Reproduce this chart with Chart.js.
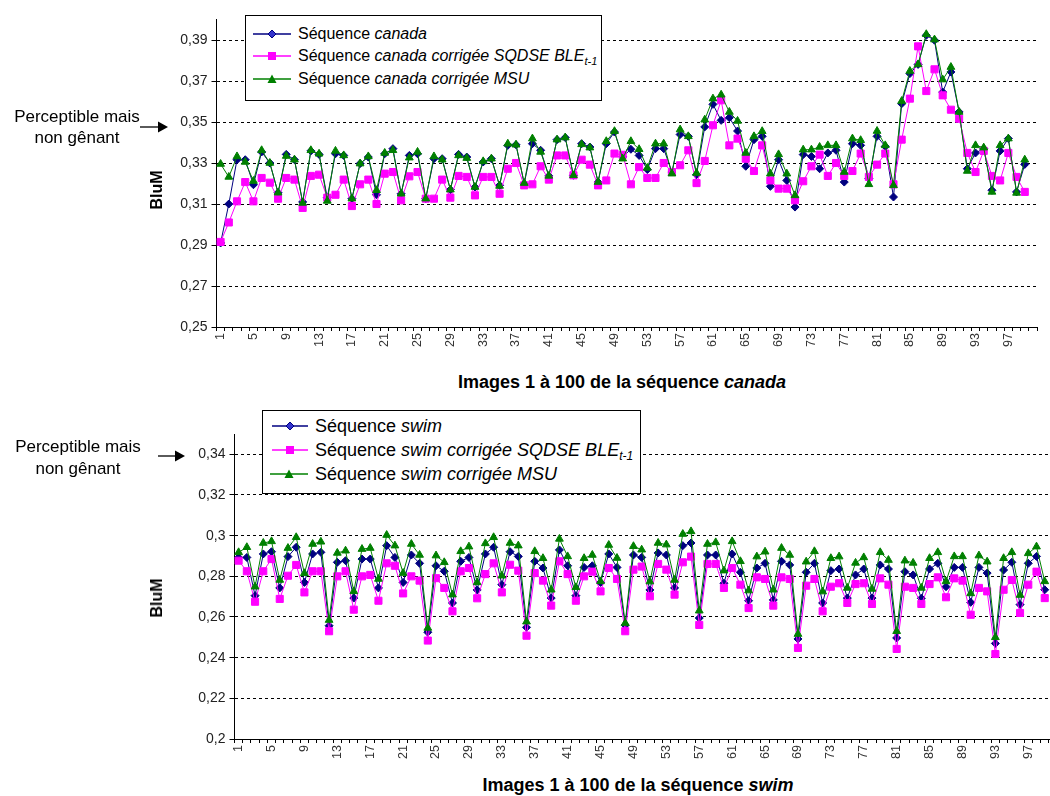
<!DOCTYPE html>
<html><head><meta charset="utf-8">
<script src="https://cdn.jsdelivr.net/npm/chart.js@4.4.1/dist/chart.umd.min.js"></script>
<style>
html,body{margin:0;padding:0;width:1050px;height:796px;overflow:hidden;background:#fff;}
body{position:relative;font-family:"Liberation Sans",Arial,sans-serif;color:#000;}
canvas{position:absolute;left:0;}
.legend{position:absolute;border:1px solid #000;background:#fff;box-sizing:border-box;}
.row{position:absolute;height:22px;display:flex;align-items:center;font-size:16px;white-space:nowrap;}
.row svg{margin-right:7px;flex:none;}
.big .row{font-size:18px;}
sub{font-size:11px;vertical-align:-4px;line-height:0;}
.big sub{font-size:12px;}
.ann{position:absolute;width:150px;text-align:center;font-size:17px;}
.ytitle{position:absolute;font-weight:bold;font-size:16px;transform:translate(-50%,-50%) rotate(-90deg);white-space:nowrap;}
.xtitle{position:absolute;font-weight:bold;font-size:18px;transform:translate(-50%,-50%);white-space:nowrap;}
</style></head>
<body>
<canvas id="c1" width="1050" height="360" style="top:0px"></canvas>
<canvas id="c2" width="1070" height="372" style="top:400px"></canvas>

<div class="ann" style="left:2px;top:106px;line-height:21px">Perceptible mais<br>non gênant</div>
<div class="ann" style="left:3px;top:436px;line-height:22px">Perceptible mais<br>non gênant</div>
<svg style="position:absolute;left:0;top:0" width="200" height="480">
  <line x1="140" y1="127" x2="159" y2="127" stroke="#000" stroke-width="1.3"/>
  <polygon points="158,121.5 168,127 158,132.5" fill="#000"/>
  <line x1="158" y1="456" x2="176" y2="456" stroke="#000" stroke-width="1.3"/>
  <polygon points="175,450.5 185,456 175,461.5" fill="#000"/>
</svg>

<div class="ytitle" style="left:157px;top:190px">BluM</div>
<div class="ytitle" style="left:157px;top:598px">BluM</div>
<div class="xtitle" style="left:622px;top:382px">Images 1 à 100 de la séquence <i>canada</i></div>
<div class="xtitle" style="left:638px;top:785px">Images 1 à 100 de la séquence <i>swim</i></div>

<div class="legend" style="left:245px;top:15px;width:357px;height:86px">
  <div class="row" style="left:7px;top:7px"><svg width="38" height="12"><line x1="0" y1="6" x2="38" y2="6" stroke="#000080" stroke-width="1.5"/><polygon points="19,2 23,6 19,10 15,6" fill="#3333cc" stroke="#000080"/></svg><span>Séquence <i>canada</i></span></div>
  <div class="row" style="left:7px;top:29px"><svg width="38" height="12"><line x1="0" y1="6" x2="38" y2="6" stroke="#FF00FF" stroke-width="1.5"/><rect x="15" y="2" width="8" height="8" fill="#FF00FF"/></svg><span>Séquence <i>canada corrigée SQDSE BLE<sub>t-1</sub></i></span></div>
  <div class="row" style="left:7px;top:52px"><svg width="38" height="12"><line x1="0" y1="6" x2="38" y2="6" stroke="#008000" stroke-width="1.5"/><polygon points="19,1.5 23.5,10 14.5,10" fill="#008000"/></svg><span>Séquence <i>canada corrigée MSU</i></span></div>
</div>
<div class="legend big" style="left:262px;top:410px;width:379px;height:84px">
  <div class="row" style="left:9px;top:4px"><svg width="36" height="12"><line x1="0" y1="6" x2="36" y2="6" stroke="#000080" stroke-width="1.5"/><polygon points="18,2 22,6 18,10 14,6" fill="#3333cc" stroke="#000080"/></svg><span>Séquence <i>swim</i></span></div>
  <div class="row" style="left:9px;top:28px"><svg width="36" height="12"><line x1="0" y1="6" x2="36" y2="6" stroke="#FF00FF" stroke-width="1.5"/><rect x="14" y="2" width="8" height="8" fill="#FF00FF"/></svg><span>Séquence <i>swim corrigée SQDSE BLE<sub>t-1</sub></i></span></div>
  <div class="row" style="left:7px;top:52px"><svg width="38" height="12"><line x1="0" y1="6" x2="38" y2="6" stroke="#008000" stroke-width="1.5"/><polygon points="19,1.5 23.5,10 14.5,10" fill="#008000"/></svg><span>Séquence <i>swim corrigée MSU</i></span></div>
</div>

<script>
const categories = ['1','2','3','4','5','6','7','8','9','10','11','12','13','14','15','16','17','18','19','20',
'21','22','23','24','25','26','27','28','29','30','31','32','33','34','35','36','37','38','39','40',
'41','42','43','44','45','46','47','48','49','50','51','52','53','54','55','56','57','58','59','60',
'61','62','63','64','65','66','67','68','69','70','71','72','73','74','75','76','77','78','79','80',
'81','82','83','84','85','86','87','88','89','90','91','92','93','94','95','96','97','98','99','100'];

const yTicksCanada = [0.25, 0.27, 0.29, 0.31, 0.33, 0.35, 0.37, 0.39];
const yTicksSwim = [0.2, 0.22, 0.24, 0.26, 0.28, 0.3, 0.32, 0.34];

const seriesNamesCanada = ['Séquence canada', 'Séquence canada corrigée SQDSE BLE t-1', 'Séquence canada corrigée MSU'];
const seriesNamesSwim = ['Séquence swim', 'Séquence swim corrigée SQDSE BLE t-1', 'Séquence swim corrigée MSU'];

const canadaOriginal = [0.291,0.310,0.3316,0.3316,0.3194,0.3354,0.330,0.3155,0.3342,0.3316,
0.311,0.3359,0.3342,0.3131,0.3345,0.3337,0.3126,0.3297,0.3329,0.3145,
0.3345,0.337,0.315,0.3337,0.3345,0.3126,0.3321,0.3321,0.317,0.3342,
0.3329,0.3183,0.3305,0.3321,0.3191,0.3386,0.3389,0.3199,0.3394,0.3362,
0.3237,0.3414,0.3424,0.324,0.3394,0.3378,0.3207,0.3394,0.3451,0.333,
0.3367,0.3337,0.3268,0.337,0.337,0.3256,0.3439,0.343,0.3243,0.3476,
0.3586,0.3508,0.3521,0.3456,0.3284,0.3414,0.343,0.3186,0.3316,0.3215,
0.3085,0.3341,0.3332,0.3272,0.3349,0.3362,0.3207,0.3394,0.3386,0.3224,
0.343,0.3381,0.3134,0.3589,0.3736,0.3781,0.3923,0.3899,0.3646,0.3744,
0.3549,0.3272,0.3349,0.337,0.3167,0.3359,0.3419,0.3159,0.3293];

const canadaSQDSE = [0.2915,0.301,0.3113,0.3207,0.3113,0.3227,0.3204,0.3126,0.3227,0.3219,
0.3081,0.3237,0.3243,0.3131,0.3145,0.3219,0.309,0.3196,0.3219,0.31,
0.3248,0.3256,0.3118,0.3235,0.3256,0.3126,0.3126,0.3219,0.3131,0.3237,
0.3232,0.3142,0.3232,0.3232,0.315,0.3272,0.330,0.3191,0.3196,0.3284,
0.3219,0.3337,0.3337,0.324,0.3316,0.3292,0.3191,0.3215,0.3346,0.334,
0.3196,0.328,0.3227,0.3227,0.330,0.3256,0.3289,0.3362,0.3202,0.331,
0.3484,0.3606,0.3386,0.3419,0.3321,0.3261,0.3386,0.3215,0.3175,0.3175,
0.3118,0.3211,0.3284,0.3341,0.3237,0.330,0.3237,0.3261,0.3346,0.3232,
0.3292,0.3346,0.3196,0.3414,0.3614,0.3869,0.3651,0.3757,0.363,0.356,
0.3516,0.3349,0.3256,0.3359,0.3237,0.3215,0.3349,0.3232,0.3159];

const canadaMSU = [0.3295,0.3232,0.3332,0.3305,0.3212,0.3362,0.330,0.3155,0.3334,0.3316,
0.3105,0.3362,0.3345,0.3115,0.3359,0.3337,0.3126,0.3297,0.3332,0.3167,
0.3349,0.3362,0.315,0.3326,0.3354,0.3126,0.3332,0.3316,0.317,0.3337,
0.3324,0.3183,0.3308,0.3321,0.3188,0.3394,0.3389,0.3202,0.3419,0.3354,
0.3237,0.3414,0.3424,0.324,0.3391,0.3375,0.3207,0.3406,0.3455,0.3321,
0.3406,0.3367,0.3276,0.3394,0.3394,0.3248,0.3463,0.343,0.3251,0.3511,
0.3614,0.3633,0.3549,0.3505,0.3349,0.343,0.3455,0.3248,0.3342,0.3248,
0.3142,0.3365,0.3365,0.3378,0.3386,0.3386,0.3256,0.3419,0.3411,0.3196,
0.3456,0.3386,0.3191,0.3602,0.3749,0.3781,0.3928,0.3902,0.3707,0.3768,
0.3549,0.3261,0.3386,0.3375,0.3159,0.3386,0.3419,0.3154,0.3316];

const swimOriginal = [0.2893,0.2893,0.2705,0.291,0.2921,0.2743,0.2897,0.2943,0.277,0.291,
0.2918,0.2557,0.2869,0.2877,0.2693,0.2885,0.2885,0.2743,0.2951,0.2893,
0.277,0.2905,0.2864,0.2525,0.2852,0.2825,0.2669,0.2874,0.2893,0.2733,
0.291,0.2943,0.2759,0.2921,0.2898,0.2549,0.2874,0.2841,0.2693,0.293,
0.2852,0.2705,0.2844,0.2852,0.277,0.291,0.2844,0.256,0.2905,0.2893,
0.2733,0.2915,0.2905,0.2743,0.2951,0.2964,0.2595,0.2905,0.2905,0.2766,
0.291,0.282,0.268,0.2841,0.2864,0.2684,0.2874,0.2856,0.2492,0.282,
0.2864,0.2669,0.2828,0.2836,0.2693,0.2807,0.2836,0.2693,0.2856,0.2836,
0.2497,0.2823,0.2807,0.2692,0.2836,0.2864,0.2749,0.2844,0.2844,0.2672,
0.2844,0.2816,0.247,0.2831,0.2869,0.2661,0.2864,0.2898,0.2734];

const swimSQDSE = [0.2877,0.2825,0.2675,0.2825,0.2885,0.2689,0.2803,0.2856,0.2721,0.2825,
0.2825,0.253,0.28,0.2825,0.2636,0.28,0.2807,0.268,0.2864,0.2852,
0.2716,0.28,0.2779,0.2484,0.2791,0.2743,0.2628,0.2825,0.2841,0.2692,
0.2811,0.2864,0.2721,0.2857,0.2828,0.2508,0.2816,0.2779,0.2656,0.2874,
0.2811,0.268,0.28,0.2823,0.2726,0.2841,0.2787,0.253,0.2833,0.2848,
0.2702,0.2861,0.2833,0.271,0.2869,0.2897,0.2561,0.2861,0.2861,0.2743,
0.2841,0.2759,0.2644,0.2795,0.2787,0.2656,0.2795,0.2787,0.2448,0.2754,
0.2787,0.2628,0.2749,0.2766,0.2669,0.2762,0.2766,0.2664,0.279,0.2759,
0.2443,0.2749,0.2743,0.2664,0.2762,0.2795,0.2697,0.279,0.2779,0.2611,
0.2743,0.2726,0.2418,0.2734,0.2782,0.262,0.2759,0.2823,0.2693];

const swimMSU = [0.2918,0.2943,0.2749,0.2964,0.2972,0.2782,0.2939,0.2992,0.2815,0.2959,
0.297,0.2585,0.2915,0.2926,0.2726,0.2934,0.2939,0.2787,0.3003,0.2951,
0.2816,0.2959,0.2905,0.2546,0.2902,0.2869,0.271,0.2923,0.2946,0.277,
0.2962,0.2992,0.2803,0.2964,0.2951,0.2577,0.2923,0.2889,0.2734,0.2984,
0.2898,0.2746,0.2889,0.2905,0.2775,0.2954,0.289,0.257,0.2948,0.2931,
0.2774,0.2964,0.2956,0.2782,0.3008,0.3021,0.2631,0.2959,0.2967,0.2828,
0.2972,0.2874,0.273,0.2897,0.2921,0.2734,0.2939,0.2905,0.2516,0.2872,
0.2923,0.2725,0.2889,0.2897,0.2743,0.2866,0.2893,0.2738,0.2918,0.288,
0.253,0.2877,0.2866,0.2743,0.2889,0.2918,0.2775,0.2898,0.2898,0.2716,
0.2902,0.2872,0.25,0.2889,0.2918,0.2708,0.2913,0.2946,0.2775];

Chart.defaults.font.family = '"Liberation Sans", Arial, sans-serif';

function fmtTick(v){ return String(Math.round(v*100)/100).replace('.', ','); }

function build(id, names, blue, mag, green, yMin, yMax, yTicks, box){
  return new Chart(document.getElementById(id), {
    type: 'line',
    data: {
      labels: categories,
      datasets: [
        {label: names[0], data: blue, borderColor: '#000080', backgroundColor: '#000080',
         pointStyle: 'rectRot', pointRadius: 4, pointHoverRadius: 4, borderWidth: 1, pointBorderWidth: 1, order: 2},
        {label: names[1], data: mag, borderColor: '#FF00FF', backgroundColor: '#FF00FF',
         pointStyle: 'rect', pointRadius: 5, pointHoverRadius: 5, borderWidth: 1, pointBorderWidth: 1, order: 1},
        {label: names[2], data: green, borderColor: '#008000', backgroundColor: '#008000',
         pointStyle: 'triangle', pointRadius: 4.5, pointHoverRadius: 4.5, borderWidth: 1, pointBorderWidth: 1, order: 0}
      ]
    },
    options: {
      responsive: false, animation: false, devicePixelRatio: 1,
      layout: {padding: {left: 0, top: box.top, right: box.right, bottom: 0}},
      plugins: {legend: {display: false}, tooltip: {enabled: false}},
      elements: {line: {tension: 0}},
      scales: {
        x: {
          type: 'category', offset: true,
          afterFit: s => { s.height = box.xh; },
          grid: {offset: true, drawOnChartArea: false, drawTicks: true, tickLength: 4, tickColor: '#000', color: '#000'},
          border: {display: true, color: '#000', width: 1},
          ticks: {autoSkip: false, maxRotation: 90, minRotation: 90, padding: 2, font: {size: 12.5}, color: '#333',
            callback: function(v, i){ return i % 4 === 0 ? this.getLabelForValue(v) : ''; }}
        },
        y: {
          min: yMin, max: yMax,
          afterFit: s => { s.width = box.yw; },
          afterBuildTicks: s => { s.ticks = yTicks.map(v => ({value: v})); },
          grid: {color: '#000', lineWidth: 1, drawTicks: true, tickLength: 5, tickColor: '#000'},
          border: {display: true, color: '#000', width: 1, dash: [3, 3]},
          ticks: {padding: 4, font: {size: 14}, color: '#222', callback: v => fmtTick(v)}
        }
      }
    }
  });
}

build('c1', seriesNamesCanada, canadaOriginal, canadaSQDSE, canadaMSU, 0.25, 0.40, yTicksCanada,
      {top: 19.5, right: 6.5, xh: 33, yw: 216.5});
build('c2', seriesNamesSwim, swimOriginal, swimSQDSE, swimMSU, 0.2, 0.35, yTicksSwim,
      {top: 34, right: 8.5, xh: 33, yw: 234.5});
</script>
</body></html>
